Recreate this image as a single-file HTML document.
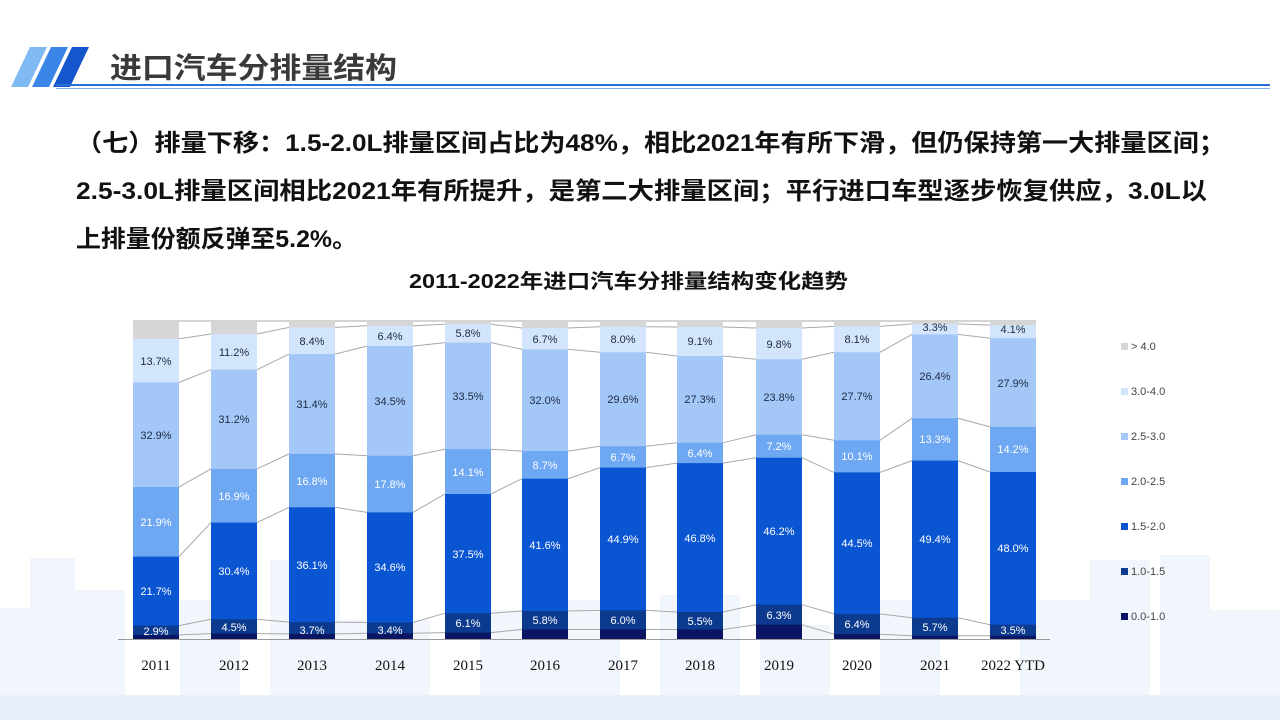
<!DOCTYPE html>
<html><head><meta charset="utf-8"><style>
html,body{margin:0;padding:0;background:#fff;}
svg{display:block;font-family:"Liberation Sans","Noto Sans CJK SC",sans-serif;}
</style></head><body>
<svg width="1280" height="720" viewBox="0 0 1280 720" xmlns="http://www.w3.org/2000/svg">
<rect width="1280" height="720" fill="#fff"/>
<g fill="#f1f6fd">
<rect x="0" y="608" width="60" height="112"/><rect x="30" y="558" width="45" height="162"/><rect x="75" y="590" width="50" height="130"/>
<rect x="180" y="600" width="60" height="120"/><rect x="270" y="560" width="70" height="160"/><rect x="340" y="620" width="90" height="100"/>
<rect x="480" y="610" width="80" height="110"/><rect x="560" y="600" width="60" height="120"/><rect x="660" y="595" width="80" height="125"/>
<rect x="760" y="625" width="70" height="95"/><rect x="880" y="600" width="60" height="120"/><rect x="1020" y="600" width="80" height="120"/>
<rect x="1090" y="560" width="60" height="160"/><rect x="1160" y="555" width="50" height="165"/><rect x="1210" y="610" width="70" height="110"/>
</g>
<rect x="0" y="695" width="1280" height="25" fill="#e8f0fc"/>

<polygon points="30,47 47,47 28,87 11,87" fill="#7fbaf5"/>
<polygon points="51,47 68,47 49,87 32,87" fill="#3a86e8"/>
<polygon points="72,47 89,47 70,87 53,87" fill="#1556cc"/>
<text x="110" y="78" font-size="29" font-weight="bold" fill="#3a3a3a" textLength="287" lengthAdjust="spacingAndGlyphs">进口汽车分排量结构</text>
<rect x="56" y="84" width="1214" height="2" fill="#2a6fd6"/>
<rect x="56" y="88" width="1214" height="1" fill="#7fb0ec"/>

<g font-size="24" font-weight="bold" fill="#111">
<text x="76" y="151" textLength="1149" lengthAdjust="spacingAndGlyphs">（七）排量下移：1.5-2.0L排量区间占比为48%，相比2021年有所下滑，但仍保持第一大排量区间；</text>
<text x="76" y="199" textLength="1131" lengthAdjust="spacingAndGlyphs">2.5-3.0L排量区间相比2021年有所提升，是第二大排量区间；平行进口车型逐步恢复供应，3.0L以</text>
<text x="76" y="247" textLength="281" lengthAdjust="spacingAndGlyphs">上排量份额反弹至5.2%。</text>
</g>
<text x="409" y="288" font-size="20" font-weight="bold" fill="#111" textLength="439" lengthAdjust="spacingAndGlyphs">2011-2022年进口汽车分排量结构变化趋势</text>

<g fill="none" stroke="#a8a8a8" stroke-width="1">
<polyline points="133,321 1036,321"/>
<polyline points="133,634.9 179,634.9 211,633.6 257,633.6 289,633.9 335,633.9 367,633.3 413,633.3 445,632.6 491,632.6 522,629.5 568,629.5 600,629.5 646,629.5 677,629.5 723,629.5 756,624.7 802,624.7 834,634.2 880,634.2 912,635.8 958,635.8 990,635.8 1036,635.8"/>
<polyline points="133,625.6 179,625.6 211,619.3 257,619.3 289,622.1 335,622.1 367,622.5 413,622.5 445,613.2 491,613.2 522,611 568,611 600,610.4 646,610.4 677,612 723,612 756,604.7 802,604.7 834,613.9 880,613.9 912,617.7 958,617.7 990,624.7 1036,624.7"/>
<polyline points="133,556.6 179,556.6 211,522.6 257,522.6 289,507.3 335,507.3 367,512.4 413,512.4 445,494 491,494 522,478.7 568,478.7 600,467.6 646,467.6 677,463.1 723,463.1 756,457.7 802,457.7 834,472.4 880,472.4 912,460.6 958,460.6 990,472 1036,472"/>
<polyline points="133,487 179,487 211,468.9 257,468.9 289,453.9 335,453.9 367,455.8 413,455.8 445,449.2 491,449.2 522,451.1 568,451.1 600,446.3 646,446.3 677,442.8 723,442.8 756,434.8 802,434.8 834,440.3 880,440.3 912,418.3 958,418.3 990,426.9 1036,426.9"/>
<polyline points="133,382.4 179,382.4 211,369.7 257,369.7 289,354.1 335,354.1 367,346.1 413,346.1 445,342.6 491,342.6 522,349.3 568,349.3 600,352.2 646,352.2 677,356 723,356 756,359.2 802,359.2 834,352.2 880,352.2 912,334.4 958,334.4 990,338.2 1036,338.2"/>
<polyline points="133,338.8 179,338.8 211,334 257,334 289,327.4 335,327.4 367,325.8 413,325.8 445,324.2 491,324.2 522,328 568,328 600,326.7 646,326.7 677,327 723,327 756,328 802,328 834,326.4 880,326.4 912,323.9 958,323.9 990,325.1 1036,325.1"/>
</g>

<g fill="#d6d6d6">
<rect x="133" y="321" width="46" height="318"/><rect x="211" y="321" width="46" height="318"/><rect x="289" y="321" width="46" height="318"/><rect x="367" y="321" width="46" height="318"/><rect x="445" y="321" width="46" height="318"/><rect x="522" y="321" width="46" height="318"/><rect x="600" y="321" width="46" height="318"/><rect x="677" y="321" width="46" height="318"/><rect x="756" y="321" width="46" height="318"/><rect x="834" y="321" width="46" height="318"/><rect x="912" y="321" width="46" height="318"/><rect x="990" y="321" width="46" height="318"/>
</g>
<g fill="#d3e5fc">
<rect x="133" y="338.8" width="46" height="300.2"/><rect x="211" y="334" width="46" height="305"/><rect x="289" y="327.4" width="46" height="311.6"/><rect x="367" y="325.8" width="46" height="313.2"/><rect x="445" y="324.2" width="46" height="314.8"/><rect x="522" y="328" width="46" height="311"/><rect x="600" y="326.7" width="46" height="312.3"/><rect x="677" y="327" width="46" height="312"/><rect x="756" y="328" width="46" height="311"/><rect x="834" y="326.4" width="46" height="312.6"/><rect x="912" y="323.9" width="46" height="315.1"/><rect x="990" y="325.1" width="46" height="313.9"/>
</g>
<g fill="#a3c8f8">
<rect x="133" y="382.4" width="46" height="256.6"/><rect x="211" y="369.7" width="46" height="269.3"/><rect x="289" y="354.1" width="46" height="284.9"/><rect x="367" y="346.1" width="46" height="292.9"/><rect x="445" y="342.6" width="46" height="296.4"/><rect x="522" y="349.3" width="46" height="289.7"/><rect x="600" y="352.2" width="46" height="286.8"/><rect x="677" y="356" width="46" height="283"/><rect x="756" y="359.2" width="46" height="279.8"/><rect x="834" y="352.2" width="46" height="286.8"/><rect x="912" y="334.4" width="46" height="304.6"/><rect x="990" y="338.2" width="46" height="300.8"/>
</g>
<g fill="#6ea7f2">
<rect x="133" y="487" width="46" height="152"/><rect x="211" y="468.9" width="46" height="170.1"/><rect x="289" y="453.9" width="46" height="185.1"/><rect x="367" y="455.8" width="46" height="183.2"/><rect x="445" y="449.2" width="46" height="189.8"/><rect x="522" y="451.1" width="46" height="187.9"/><rect x="600" y="446.3" width="46" height="192.7"/><rect x="677" y="442.8" width="46" height="196.2"/><rect x="756" y="434.8" width="46" height="204.2"/><rect x="834" y="440.3" width="46" height="198.7"/><rect x="912" y="418.3" width="46" height="220.7"/><rect x="990" y="426.9" width="46" height="212.1"/>
</g>
<g fill="#0a55d2">
<rect x="133" y="556.6" width="46" height="82.4"/><rect x="211" y="522.6" width="46" height="116.4"/><rect x="289" y="507.3" width="46" height="131.7"/><rect x="367" y="512.4" width="46" height="126.6"/><rect x="445" y="494" width="46" height="145"/><rect x="522" y="478.7" width="46" height="160.3"/><rect x="600" y="467.6" width="46" height="171.4"/><rect x="677" y="463.1" width="46" height="175.9"/><rect x="756" y="457.7" width="46" height="181.3"/><rect x="834" y="472.4" width="46" height="166.6"/><rect x="912" y="460.6" width="46" height="178.4"/><rect x="990" y="472" width="46" height="167"/>
</g>
<g fill="#0c3a8e">
<rect x="133" y="625.6" width="46" height="13.4"/><rect x="211" y="619.3" width="46" height="19.7"/><rect x="289" y="622.1" width="46" height="16.9"/><rect x="367" y="622.5" width="46" height="16.5"/><rect x="445" y="613.2" width="46" height="25.8"/><rect x="522" y="611" width="46" height="28"/><rect x="600" y="610.4" width="46" height="28.6"/><rect x="677" y="612" width="46" height="27"/><rect x="756" y="604.7" width="46" height="34.3"/><rect x="834" y="613.9" width="46" height="25.1"/><rect x="912" y="617.7" width="46" height="21.3"/><rect x="990" y="624.7" width="46" height="14.3"/>
</g>
<g fill="#0a1563">
<rect x="133" y="634.9" width="46" height="4.1"/><rect x="211" y="633.6" width="46" height="5.4"/><rect x="289" y="633.9" width="46" height="5.1"/><rect x="367" y="633.3" width="46" height="5.7"/><rect x="445" y="632.6" width="46" height="6.4"/><rect x="522" y="629.5" width="46" height="9.5"/><rect x="600" y="629.5" width="46" height="9.5"/><rect x="677" y="629.5" width="46" height="9.5"/><rect x="756" y="624.7" width="46" height="14.3"/><rect x="834" y="634.2" width="46" height="4.8"/><rect x="912" y="635.8" width="46" height="3.2"/><rect x="990" y="635.8" width="46" height="3.2"/>
</g>
<line x1="118" y1="639.5" x2="1050" y2="639.5" stroke="#9a9a9a" stroke-width="1"/>

<g font-size="11" text-anchor="middle" fill="#1d2a44">
<text x="156" y="365">13.7%</text><text x="234" y="356">11.2%</text><text x="312" y="345">8.4%</text><text x="390" y="340">6.4%</text><text x="468" y="337">5.8%</text><text x="545" y="343">6.7%</text><text x="623" y="343">8.0%</text><text x="700" y="345">9.1%</text><text x="779" y="348">9.8%</text><text x="857" y="343">8.1%</text><text x="935" y="331">3.3%</text><text x="1013" y="333">4.1%</text>
<text x="156" y="439">32.9%</text><text x="234" y="423">31.2%</text><text x="312" y="408">31.4%</text><text x="390" y="405">34.5%</text><text x="468" y="400">33.5%</text><text x="545" y="404">32.0%</text><text x="623" y="403">29.6%</text><text x="700" y="403">27.3%</text><text x="779" y="401">23.8%</text><text x="857" y="400">27.7%</text><text x="935" y="380">26.4%</text><text x="1013" y="387">27.9%</text>
</g>
<g font-size="11" text-anchor="middle" fill="#ffffff">
<text x="156" y="526">21.9%</text><text x="234" y="500">16.9%</text><text x="312" y="485">16.8%</text><text x="390" y="488">17.8%</text><text x="468" y="476">14.1%</text><text x="545" y="469">8.7%</text><text x="623" y="461">6.7%</text><text x="700" y="457">6.4%</text><text x="779" y="450">7.2%</text><text x="857" y="460">10.1%</text><text x="935" y="443">13.3%</text><text x="1013" y="453">14.2%</text>
<text x="156" y="595">21.7%</text><text x="234" y="575">30.4%</text><text x="312" y="569">36.1%</text><text x="390" y="571">34.6%</text><text x="468" y="558">37.5%</text><text x="545" y="549">41.6%</text><text x="623" y="543">44.9%</text><text x="700" y="542">46.8%</text><text x="779" y="535">46.2%</text><text x="857" y="547">44.5%</text><text x="935" y="543">49.4%</text><text x="1013" y="552">48.0%</text>
<text x="156" y="635">2.9%</text><text x="234" y="631">4.5%</text><text x="312" y="634">3.7%</text><text x="390" y="634">3.4%</text><text x="468" y="627">6.1%</text><text x="545" y="624">5.8%</text><text x="623" y="624">6.0%</text><text x="700" y="625">5.5%</text><text x="779" y="619">6.3%</text><text x="857" y="628">6.4%</text><text x="935" y="631">5.7%</text><text x="1013" y="634">3.5%</text>
</g>

<g font-family="Liberation Serif, serif" font-size="15" text-anchor="middle" fill="#111">
<text x="156" y="670">2011</text><text x="234" y="670">2012</text><text x="312" y="670">2013</text><text x="390" y="670">2014</text><text x="468" y="670">2015</text><text x="545" y="670">2016</text><text x="623" y="670">2017</text><text x="700" y="670">2018</text><text x="779" y="670">2019</text><text x="857" y="670">2020</text><text x="935" y="670">2021</text><text x="1013" y="670">2022 YTD</text>
</g>

<g font-size="11" fill="#444">
<rect x="1121" y="343" width="7" height="7" fill="#d6d6d6"/><text x="1131" y="350">&gt; 4.0</text>
<rect x="1121" y="388" width="7" height="7" fill="#d3e5fc"/><text x="1131" y="395">3.0-4.0</text>
<rect x="1121" y="433" width="7" height="7" fill="#a3c8f8"/><text x="1131" y="440">2.5-3.0</text>
<rect x="1121" y="478" width="7" height="7" fill="#6ea7f2"/><text x="1131" y="485">2.0-2.5</text>
<rect x="1121" y="523" width="7" height="7" fill="#0a55d2"/><text x="1131" y="530">1.5-2.0</text>
<rect x="1121" y="568" width="7" height="7" fill="#0c3a8e"/><text x="1131" y="575">1.0-1.5</text>
<rect x="1121" y="613" width="7" height="7" fill="#0a1563"/><text x="1131" y="620">0.0-1.0</text>
</g>
</svg>
</body></html>
